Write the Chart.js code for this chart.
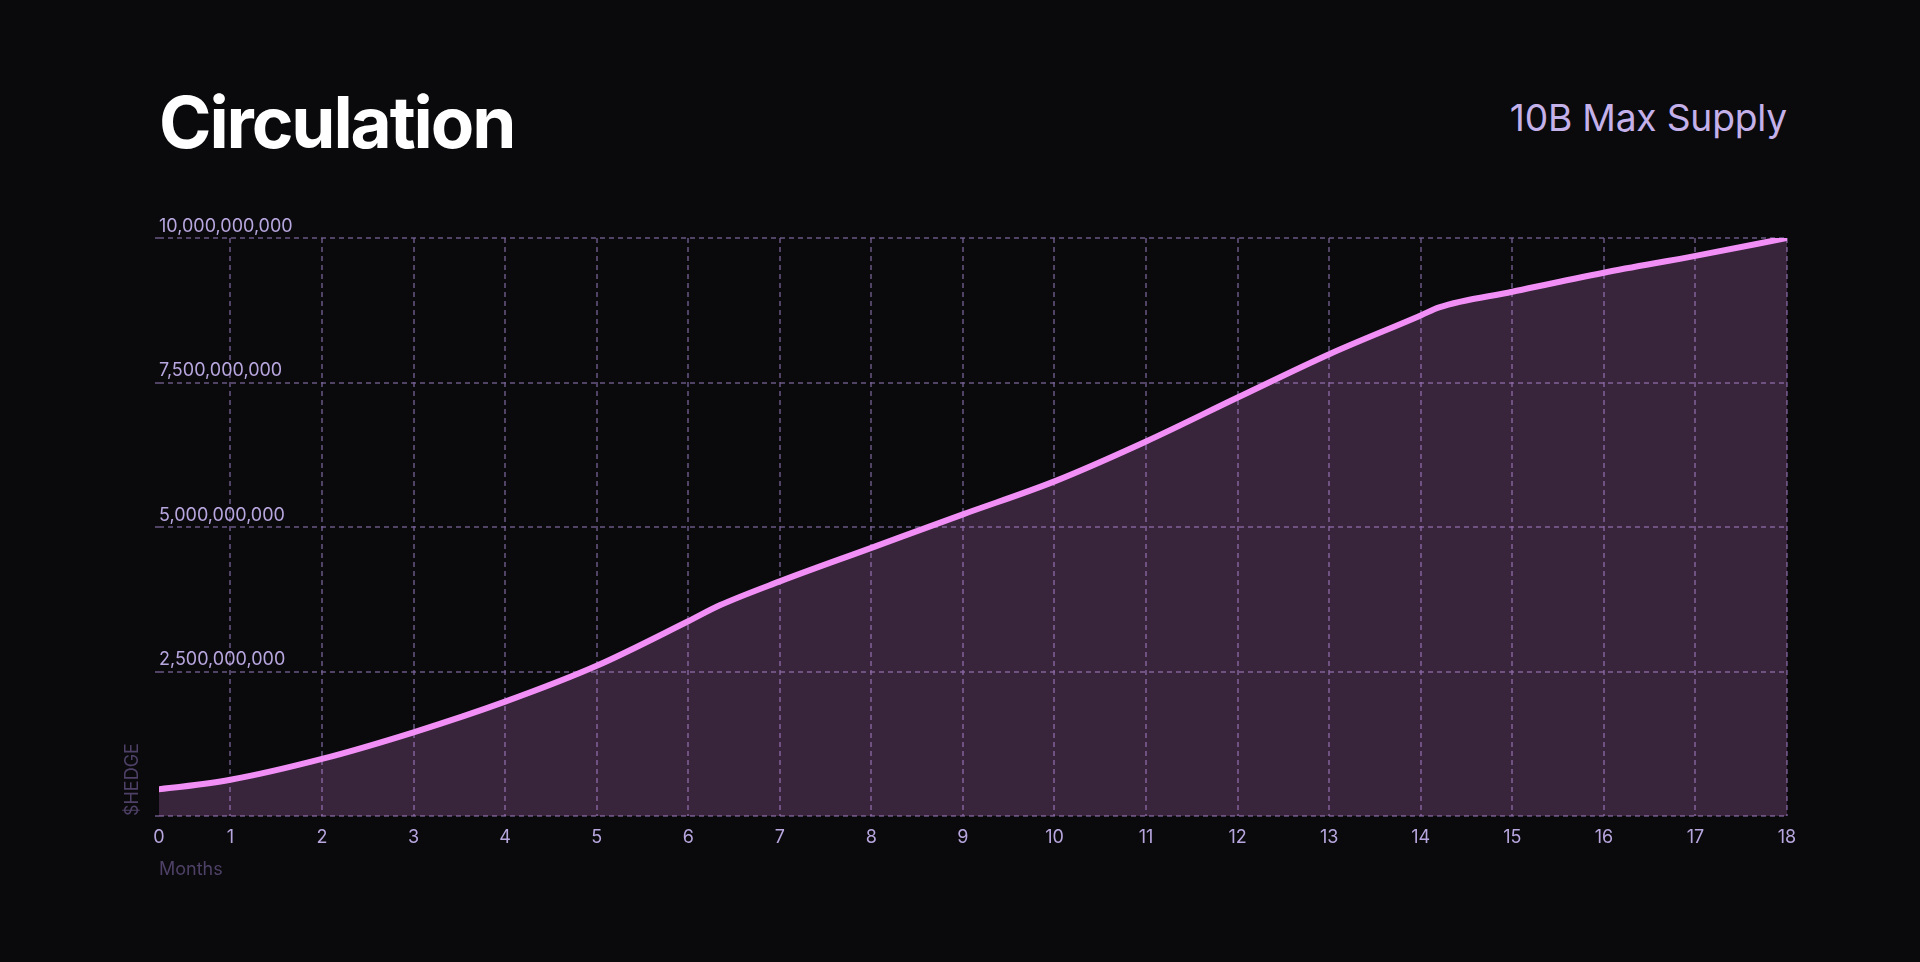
<!DOCTYPE html>
<html>
<head>
<meta charset="utf-8">
<title>Circulation</title>
<script src="https://cdn.jsdelivr.net/npm/chart.js@4.4.1/dist/chart.umd.min.js"></script>
<style>
  html, body { margin: 0; padding: 0; background: #0a0a0d; overflow: hidden; }
  #wrap { position: relative; width: 1920px; height: 962px; }
  #title {
    position: absolute; left: 159px; top: 87px;
    font: 700 71px/1 Inter, sans-serif; color: #ffffff; letter-spacing: -2.1px;
  }
  #supply {
    position: absolute; right: 133px; top: 99px;
    font: 400 37.2px/1 Inter, sans-serif; color: #c4b1ea; letter-spacing: -0.2px;
  }
  #chartCanvas { position: absolute; left: 0; top: 0; }
</style>
</head>
<body>
<div id="wrap">
  <div id="title">Circulation</div>
  <div id="supply">10B Max Supply</div>
  <canvas id="chartCanvas" width="1920" height="962"></canvas>
</div>
<script>
// months since launch, with the two bends of the curve
var months = [0, 1, 2, 3, 4, 5, 6, 6.35, 7, 8, 9, 10, 11, 12, 13, 14, 14.2, 15, 16, 17, 18];
// circulating $HEDGE
var supply = [420000000, 630000000, 990000000, 1450000000, 1980000000, 2600000000,
              3370000000, 3650000000, 4060000000, 4640000000, 5220000000, 5790000000,
              6480000000, 7240000000, 7990000000, 8660000000, 8800000000, 9070000000,
              9400000000, 9690000000, 10000000000];

var xTickLabels = ['0', '1', '2', '3', '4', '5', '6', '7', '8', '9', '10',
                   '11', '12', '13', '14', '15', '16', '17', '18'];
var xTickMonths = [1, 2, 3, 4, 5, 6, 7, 8, 9, 10, 11, 12, 13, 14, 15, 16, 17, 18];
var yTicks = [0, 2500000000, 5000000000, 7500000000, 10000000000];

var visibleStart = 0.22;   // left edge of the plot, labelled "0"
var maxSupply = 10000000000;

var GRID = 'rgba(120, 98, 150, 0.65)';
var TICK_TEXT = '#b8a6de';
var AXIS_TITLE = '#4e4066';
var LINE = '#f28ff7';

Chart.defaults.font.family = 'Inter, sans-serif';
Chart.defaults.font.size = 18;

var points = months.map(function(m, i) {
    return { x: m, y: supply[i] };
});

var config = {
    type: 'line',
    data: {
        datasets: [{
            data: points,
            borderColor: LINE,
            borderWidth: 6,
            backgroundColor: 'rgba(242, 143, 247, 0.2)',
            fill: 'origin',
            pointRadius: 0,
            cubicInterpolationMode: 'monotone'
        }]
    },
    options: {
        responsive: false,
        devicePixelRatio: 1,
        animation: false,
        layout: {
            padding: { left: 122.2, right: 133, top: 238, bottom: 81.2 }
        },
        plugins: {
            legend: { display: false },
            tooltip: { enabled: false }
        },
        scales: {
            x: {
                type: 'linear',
                min: visibleStart,
                max: 18,
                afterBuildTicks: function(axis) {
                    axis.ticks = [{ value: visibleStart }].concat(xTickMonths.map(function(v) {
                        return { value: v };
                    }));
                },
                border: { display: false, dash: [5, 4] },
                grid: {
                    color: function(ctx) { return ctx.index === 0 ? 'rgba(0,0,0,0)' : GRID; },
                    lineWidth: 2,
                    drawTicks: false
                },
                ticks: {
                    color: TICK_TEXT,
                    padding: 11,
                    autoSkip: false,
                    maxRotation: 0,
                    callback: function(value, index) { return xTickLabels[index]; }
                },
                title: {
                    display: true,
                    text: 'Months',
                    align: 'start',
                    color: AXIS_TITLE,
                    padding: { top: -0.5, bottom: 0 }
                }
            },
            y: {
                min: 0,
                max: maxSupply,
                afterBuildTicks: function(axis) {
                    axis.ticks = yTicks.map(function(v) { return { value: v }; });
                },
                border: { display: false, dash: [5, 4] },
                grid: {
                    color: GRID,
                    lineWidth: 2,
                    tickLength: 4,
                    tickColor: GRID,
                    tickBorderDash: [5, 4]
                },
                ticks: {
                    mirror: true,
                    padding: 0,
                    labelOffset: -11.5,
                    color: TICK_TEXT,
                    callback: function(value) {
                        return value === 0 ? '' : value.toLocaleString('en-US');
                    }
                },
                title: {
                    display: true,
                    text: '$HEDGE',
                    align: 'start',
                    color: AXIS_TITLE,
                    padding: { top: 0, bottom: 11.2 }
                }
            }
        }
    }
};

var chart = new Chart(document.getElementById('chartCanvas'), config);
</script>
</body>
</html>
